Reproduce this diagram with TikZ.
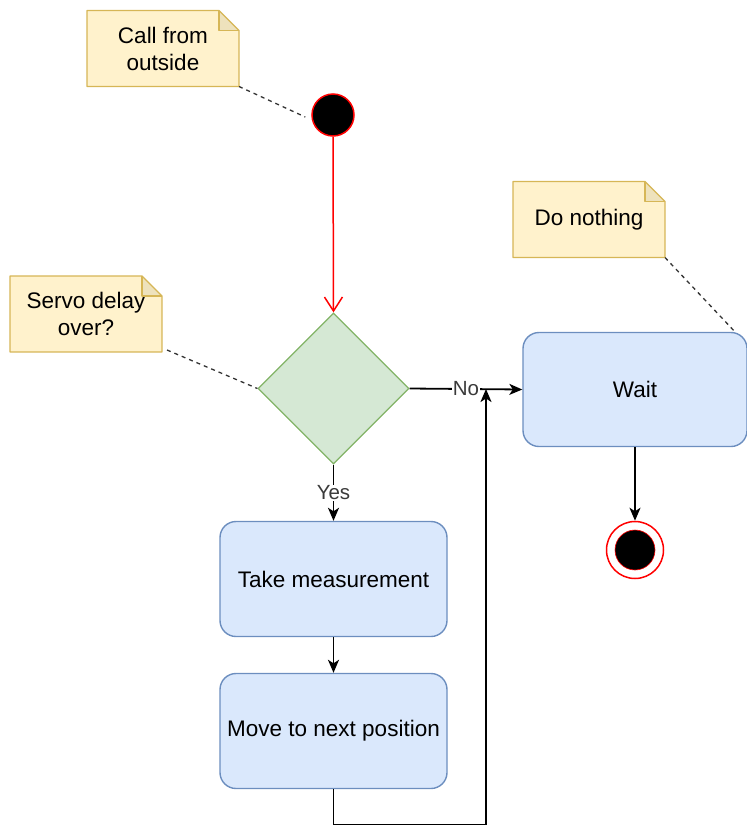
\documentclass[tikz,border=0pt]{standalone}
\usepackage{fontspec}
\setmainfont{Liberation Sans}
\usetikzlibrary{arrows.meta,shapes.geometric,calc}

\definecolor{notefill}{HTML}{FFF2CC}
\definecolor{notedraw}{HTML}{D6B656}
\definecolor{notefold}{HTML}{EEE2BC}
\definecolor{boxfill}{HTML}{DAE8FC}
\definecolor{boxdraw}{HTML}{6C8EBF}
\definecolor{decfill}{HTML}{D5E8D4}
\definecolor{decdraw}{HTML}{82B366}
\definecolor{startred}{HTML}{FF0000}
\definecolor{labelgray}{HTML}{3A3A3A}
\definecolor{linkgray}{HTML}{333333}

% folded-corner outline drawn over a sticky-note node
\newcommand\foldnote[1]{%
  \fill[white] ($(#1.north east)+(-20pt,0)$) -- (#1.north east) -- ($(#1.north east)+(0,-20pt)$) -- cycle;
  \filldraw[fill=notefold, draw=notedraw, line width=1.4pt, line join=round]
    ($(#1.north east)+(-20pt,0)$) -- ($(#1.north east)+(-20pt,-20pt)$) -- ($(#1.north east)+(0,-20pt)$);
  \draw[notedraw, line width=1.4pt, line join=round]
    ($(#1.north east)+(-20pt,0)$) -- (#1.north west) -- (#1.south west) -- (#1.south east)
    -- ($(#1.north east)+(0,-20pt)$) -- cycle;
}

\begin{document}
\begin{tikzpicture}[x=1pt,y=-1pt,
  every node/.style={font=\fontsize{22.5}{27}\selectfont, text=black},
  notebox/.style={rectangle, fill=notefill, draw=none, inner sep=0pt, outer sep=0pt,
    minimum width=152pt, minimum height=76pt, align=center},
  actbox/.style={rectangle, rounded corners=16pt, fill=boxfill, draw=boxdraw, line width=1.4pt,
    minimum width=227pt, minimum height=115pt, align=center},
  decision/.style={diamond, aspect=1, fill=decfill, draw=decdraw, line width=1.2pt,
    minimum width=151pt, minimum height=151pt, inner sep=0pt},
  startdot/.style={circle, fill=black, draw=startred, line width=1.5pt, minimum size=42pt, inner sep=0pt},
  endring/.style={circle, fill=white, draw=startred, line width=1.5pt, minimum size=57pt, inner sep=0pt},
  enddot/.style={circle, fill=black, draw=startred, line width=0.6pt, minimum size=40pt, inner sep=0pt},
  flow/.style={line width=1.8pt, draw=black, -{Stealth[length=13pt,width=11pt,inset=3.5pt]}},
  redflow/.style={line width=1.5pt, draw=startred, -{Straight Barb[length=14pt,width=18pt,line width=1.5pt]}},
  notelink/.style={line width=1.3pt, draw=linkgray, dash pattern=on 4pt off 4pt},
  edgelabel/.style={font=\fontsize{20.5}{24}\selectfont, text=labelgray, fill=white, inner sep=1pt}
]
\useasboundingbox (0,0) rectangle (747,825);

% sticky notes
\node[notebox] (callnote) at (163,48.5) {Call from\\outside};
\foldnote{callnote}
\node[notebox] (servonote) at (86,314) {Servo delay\\over?};
\foldnote{servonote}
\node[notebox] (idlenote) at (589,219.5) {Do nothing};
\foldnote{idlenote}

% activity nodes
\node[startdot] (start) at (333,115) {};
\node[decision] (check) at (333.5,388.5) {};
\node[actbox] (measure) at (333.5,579) {Take measurement};
\node[actbox] (move) at (333.5,731) {Move to next position};
\node[actbox, minimum width=224pt, minimum height=114pt] (wait) at (635,389.5) {Wait};
\node[endring] (finish) at (635,550) {};
\node[enddot] at (finish) {};

\coordinate (join) at (486,389);

% note links
\draw[notelink] (callnote.south east) -- ($(start.west)+(-6pt,-2pt)$);
\draw[notelink] ($(servonote.south east)+(5pt,2pt)$) -- (check.west);
\draw[notelink] (idlenote.south east) -- (wait.30);

% control flow
\draw[redflow] (start.south) -- (check.north);
\draw[flow] (check.south) -- node[edgelabel] {Yes} (measure.north);
\draw[flow] (check.east) -- node[edgelabel] {No} (wait.west);
\draw[flow] (measure.south) -- (move.north);
\draw[flow] (move.south) -- ++(0,36) -| (join);
\draw[flow] (wait.south) -- (finish.north);
\end{tikzpicture}
\end{document}
